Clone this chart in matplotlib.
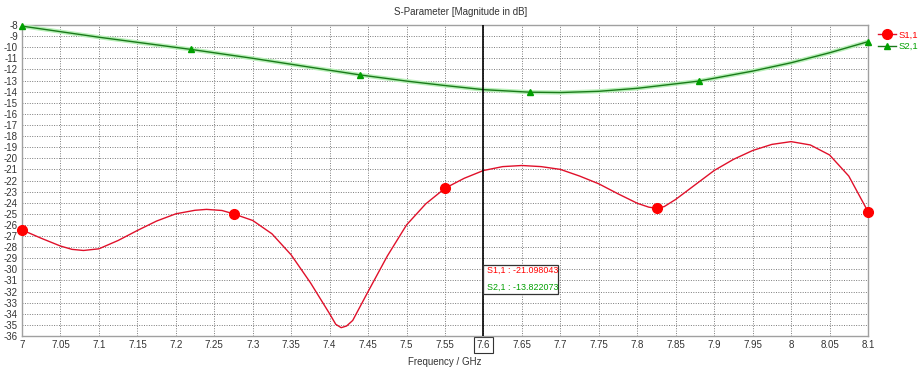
import matplotlib
matplotlib.use("Agg")
import matplotlib.pyplot as plt
from matplotlib.lines import Line2D
import numpy as np

plt.rcParams['font.family'] = ['Liberation Sans', 'DejaVu Sans']

# S1,1 (GHz, dB)
s11_f = [7.0, 7.025, 7.05, 7.065, 7.08, 7.1, 7.125, 7.15, 7.175, 7.2, 7.225, 7.24, 7.26, 7.275,
         7.3, 7.325, 7.35, 7.375, 7.4, 7.408, 7.415, 7.422, 7.43, 7.45, 7.475, 7.5, 7.525, 7.55,
         7.575, 7.6, 7.625, 7.65, 7.675, 7.7, 7.725, 7.75, 7.775, 7.8, 7.815, 7.825, 7.835, 7.85,
         7.875, 7.9, 7.925, 7.95, 7.975, 8.0, 8.025, 8.05, 8.075, 8.1]
s11_db = [-26.45, -27.2, -27.9, -28.2, -28.3, -28.15, -27.4, -26.5, -25.65, -25.0, -24.68, -24.6, -24.7, -25.0,
          -25.6, -26.8, -28.7, -31.2, -34.0, -34.95, -35.25, -35.1, -34.6, -32.0, -28.8, -26.0, -24.1, -22.7,
          -21.8, -21.1, -20.75, -20.65, -20.75, -21.0, -21.6, -22.3, -23.2, -24.05, -24.4, -24.5, -24.35, -23.7,
          -22.4, -21.1, -20.1, -19.3, -18.75, -18.5, -18.8, -19.7, -21.6, -24.8]
s11_marks = [7.0, 7.275, 7.55, 7.825, 8.1]

# S2,1
s21_f = [7.0, 7.1, 7.22, 7.3, 7.44, 7.5, 7.55, 7.6, 7.66, 7.7, 7.75, 7.8, 7.88,
         7.95, 8.0, 8.05, 8.1]
s21_db = [-8.1, -9.1, -10.2, -11.0, -12.5, -13.05, -13.45, -13.82, -14.05, -14.08, -13.97,
          -13.7, -13.05, -12.15, -11.4, -10.5, -9.5]
s21_marks = [7.0, 7.22, 7.44, 7.66, 7.88, 8.1]

cursor_f = 7.6
cursor_s11 = "-21.098043"
cursor_s21 = "-13.822073"

red = '#ff0000'
green = '#00a000'
txt = '#333333'

fig = plt.figure(figsize=(9.21, 3.68), dpi=100)
ax = fig.add_axes([22/921, 32/368, 846/921, 311/368])

m11 = [i for i, f in enumerate(s11_f) if any(abs(f - m) < 1e-9 for m in s11_marks)]
m21 = [i for i, f in enumerate(s21_f) if any(abs(f - m) < 1e-9 for m in s21_marks)]

ax.plot(s21_f, s21_db, color='#b8f0b8', lw=3, zorder=3)
ax.plot(s21_f, s21_db, color='#1a7a1a', lw=1, marker='^', ms=5,
        mfc=green, mec=green, markevery=m21, zorder=4, clip_on=False)
ax.plot(s11_f, s11_db, color='#e0102a', lw=1, marker='o', ms=7,
        mfc=red, mec=red, markevery=m11, zorder=4, clip_on=False)

ax.set_xlim(7.0, 8.1)
ax.set_ylim(-36, -8)
xt = np.round(np.arange(7.0, 8.1001, 0.05), 2)
ax.set_xticks(xt)
ax.set_xticklabels(['%g' % v for v in xt], fontsize=7, color=txt)
ax.set_yticks(np.arange(-36, -7, 1))
ax.set_yticklabels(['%d' % v for v in np.arange(-36, -7, 1)], fontsize=7, color=txt)
ax.tick_params(length=0, pad=3)
for lab in ax.get_xticklabels():
    if lab.get_text() == '7.6':
        lab.set_bbox(dict(boxstyle='square,pad=0.3', fc='white', ec=txt, lw=0.8))

ax.grid(True, color='#7a7a7a', linestyle=(0, (1, 1.5)), lw=0.7)
ax.set_axisbelow(True)
for s in ax.spines.values():
    s.set_color('#a0a0a0')
    s.set_linewidth(1)

# cursor line and readout box
ax.axvline(cursor_f, color='black', lw=1.2, zorder=5)
ax.text(cursor_f + 0.004, -30.3, 'S1,1 : ' + cursor_s11, color=red, fontsize=6.4, zorder=7)
ax.text(cursor_f + 0.004, -31.85, 'S2,1 : ' + cursor_s21, color=green, fontsize=6.4, zorder=7)
ax.add_patch(plt.Rectangle((cursor_f, -32.2), 0.097, 2.62, fc='white', ec=txt,
                           lw=0.9, zorder=6))

ax.set_xlabel('Frequency / GHz', fontsize=7, color=txt, labelpad=5)
fig.text(0.5, 0.982, 'S-Parameter [Magnitude in dB]', fontsize=7, color=txt,
         ha='center', va='top')

h11 = Line2D([], [], color='#e0102a', lw=1, marker='o', ms=7, mfc=red, mec=red)
h21 = Line2D([], [], color='#1a7a1a', lw=1, marker='^', ms=5, mfc=green, mec=green)
leg = fig.legend([h11, h21], ['S1,1', 'S2,1'], loc='upper left',
                 bbox_to_anchor=(873/921, 1 - 26/368), frameon=False, fontsize=6.8,
                 handlelength=1.9, handletextpad=0.3, labelspacing=0.25, borderpad=0)
for t, c in zip(leg.get_texts(), [red, green]):
    t.set_color(c)

fig.savefig('out.png', dpi=100)
